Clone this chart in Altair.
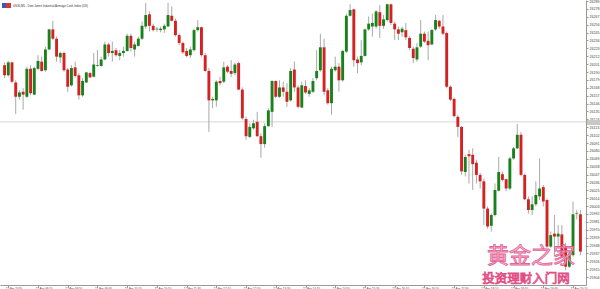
import altair as alt
import pandas as pd

# ---- candle data (5-minute bars), first bar is partly off the left edge ----
first_index = -1
opens = [26200, 26186, 26204, 26176, 26156, 26163, 26156, 26195, 26159, 26195,
         26205, 26193, 26222, 26250, 26237, 26211, 26217, 26194, 26172, 26197,
         26186, 26158, 26176, 26189, 26184, 26199, 26199, 26208, 26229, 26217,
         26221, 26213, 26217, 26220, 26241, 26222, 26227, 26237, 26254, 26271,
         26255, 26250, 26249, 26250, 26254, 26269, 26262, 26242, 26231, 26220,
         26214, 26221, 26249, 26253, 26214, 26192, 26151, 26151, 26178, 26177,
         26198, 26192, 26189, 26203, 26166, 26125, 26100, 26112, 26121, 26101,
         26090, 26115, 26135, 26178, 26156, 26169, 26163, 26151, 26194, 26169,
         26141, 26171, 26160, 26163, 26182, 26193, 26225, 26165, 26147, 26193,
         26198, 26179, 26219, 26269, 26278, 26208, 26204, 26213, 26250, 26254,
         26254, 26274, 26255, 26263, 26285, 26258, 26250, 26246, 26249, 26238,
         26223, 26208, 26226, 26244, 26234, 26229, 26250, 26262, 26254, 26245,
         26170, 26153, 26128, 26114, 26051, 26076, 26075, 26064, 26047, 26038,
         26000, 25976, 25991, 26025, 26048, 26041, 26028, 26070, 26084, 26103,
         26047, 26013, 25998, 26006, 26017, 26030, 26012, 25947, 25965, 25961,
         25964, 25947, 25919, 25935, 25993, 25992]
highs = [26204, 26206, 26205, 26179, 26165, 26168, 26198, 26200, 26198, 26214,
         26212, 26226, 26251, 26262, 26240, 26219, 26219, 26196, 26200, 26205,
         26189, 26182, 26191, 26191, 26217, 26221, 26212, 26233, 26231, 26233,
         26224, 26221, 26226, 26244, 26244, 26233, 26240, 26261, 26287, 26275,
         26258, 26253, 26254, 26258, 26287, 26282, 26265, 26244, 26233, 26224,
         26226, 26251, 26263, 26254, 26217, 26196, 26156, 26179, 26184, 26205,
         26200, 26207, 26204, 26205, 26169, 26128, 26119, 26124, 26135, 26105,
         26119, 26140, 26179, 26179, 26179, 26177, 26175, 26196, 26205, 26172,
         26177, 26179, 26168, 26182, 26221, 26244, 26237, 26168, 26198, 26212,
         26203, 26221, 26272, 26285, 26279, 26212, 26235, 26251, 26268, 26272,
         26277, 26284, 26270, 26286, 26286, 26261, 26254, 26254, 26259, 26241,
         26226, 26231, 26263, 26247, 26247, 26251, 26270, 26263, 26270, 26247,
         26172, 26155, 26131, 26115, 26075, 26082, 26084, 26068, 26050, 26042,
         26003, 25993, 26035, 26072, 26052, 26042, 26072, 26086, 26118, 26107,
         26049, 26017, 26017, 26038, 26070, 26033, 26014, 25968, 25991, 25977,
         25977, 25952, 25940, 26010, 25998, 25998]
lows = [26182, 26184, 26175, 26132, 26152, 26138, 26154, 26158, 26158, 26193,
        26191, 26191, 26221, 26235, 26205, 26203, 26191, 26163, 26170, 26183,
        26152, 26156, 26175, 26182, 26183, 26198, 26198, 26207, 26212, 26205,
        26212, 26207, 26212, 26219, 26219, 26212, 26226, 26235, 26251, 26247,
        26247, 26247, 26246, 26245, 26254, 26261, 26240, 26228, 26216, 26211,
        26210, 26219, 26247, 26212, 26191, 26107, 26140, 26142, 26172, 26175,
        26189, 26184, 26186, 26165, 26124, 26096, 26098, 26110, 26100, 26071,
        26085, 26114, 26114, 26154, 26154, 26156, 26142, 26149, 26163, 26140,
        26140, 26160, 26156, 26161, 26179, 26191, 26158, 26145, 26131, 26191,
        26163, 26177, 26217, 26268, 26198, 26189, 26200, 26212, 26248, 26240,
        26251, 26238, 26251, 26261, 26256, 26235, 26235, 26240, 26235, 26221,
        26203, 26205, 26224, 26231, 26207, 26228, 26248, 26251, 26242, 26168,
        26150, 26127, 26100, 26047, 26045, 26035, 26026, 26035, 26028, 25977,
        25972, 25968, 25989, 26024, 26038, 26024, 26026, 26068, 26083, 26045,
        26012, 25993, 25991, 26003, 26012, 26003, 25945, 25945, 25933, 25945,
        25931, 25914, 25917, 25933, 25985, 25935]
closes = [26186, 26204, 26177, 26156, 26162, 26159, 26195, 26161, 26196, 26206,
          26192, 26222, 26250, 26237, 26212, 26217, 26193, 26170, 26196, 26185,
          26158, 26178, 26190, 26183, 26201, 26200, 26208, 26229, 26217, 26220,
          26214, 26217, 26220, 26241, 26224, 26229, 26237, 26255, 26270, 26255,
          26249, 26251, 26251, 26255, 26270, 26262, 26242, 26231, 26218, 26213,
          26222, 26249, 26253, 26214, 26192, 26151, 26153, 26177, 26175, 26197,
          26191, 26188, 26201, 26166, 26126, 26101, 26114, 26119, 26101, 26090,
          26115, 26137, 26178, 26156, 26169, 26163, 26149, 26192, 26169, 26142,
          26172, 26162, 26165, 26178, 26192, 26225, 26163, 26147, 26195, 26198,
          26179, 26220, 26269, 26277, 26207, 26203, 26213, 26250, 26258, 26259,
          26275, 26255, 26264, 26285, 26259, 26250, 26244, 26251, 26239, 26224,
          26210, 26225, 26244, 26233, 26228, 26249, 26263, 26254, 26244, 26170,
          26152, 26129, 26114, 26052, 26072, 26073, 26062, 26047, 26038, 26000,
          25975, 25991, 26026, 26051, 26040, 26028, 26070, 26084, 26103, 26047,
          26013, 25998, 26006, 26019, 26028, 26010, 25947, 25963, 25961, 25965,
          25933, 25919, 25937, 25992, 25994, 25940]

price_ticks = [26289.5, 26278.5, 26267.5, 26256.5, 26245.5, 26234.5, 26223.5,
               26212.5, 26201.5, 26190.5, 26179.5, 26168.5, 26157.5, 26146.5,
               26135.5, 26124.5, 26113.5, 26102.5, 26091.5, 26080.5, 26069.5,
               26058.5, 26047.5, 26036.5, 26025.5, 26014.5, 26003.5, 25992.5,
               25981.5, 25970.5, 25959.5, 25948.5, 25937.5, 25926.5, 25915.5,
               25904.5]
time_tick_bars = [0, 8, 16, 24, 32, 40, 48, 56, 64, 72, 80, 88, 96, 104, 112,
                  120, 128, 136, 144, 152]
time_labels = ["12 Apr 2019", "12 Apr 08:10", "12 Apr 08:50", "12 Apr 09:30",
               "12 Apr 10:10", "12 Apr 10:50", "12 Apr 11:30", "12 Apr 12:10",
               "12 Apr 12:50", "12 Apr 13:30", "12 Apr 14:10", "12 Apr 14:50",
               "12 Apr 15:30", "12 Apr 16:10", "12 Apr 16:50", "12 Apr 17:30",
               "12 Apr 18:10", "12 Apr 18:50", "12 Apr 19:30", "12 Apr 20:10"]
price_line = 26121
title_text = "US30,M5 - Dow Jones Industrial Average Cash Index (US)"
watermark_big = "黄金之家"
watermark_small = "投资理财入门网"

# ---- table ----
n = len(opens)
df = pd.DataFrame({
    "bar": list(range(first_index, first_index + n)),
    "open": opens, "high": highs, "low": lows, "close": closes,
})
df["dir"] = ["up" if c >= o else "down" for o, c in zip(opens, closes)]

W, H = 586, 285
x_scale = alt.Scale(domain=[-0.881, 154.15], nice=False, zero=False)
y_scale = alt.Scale(domain=[25893.4, 26291], nice=False, zero=False)

label_expr = "[" + ",".join("'" + t + "'" for t in time_labels) + "][round(datum.value/8)]"

x_axis = alt.Axis(values=time_tick_bars, labelExpr=label_expr, title=None,
                  labelFontSize=3, labelColor="#444", labelAlign="left",
                  labelBaseline="top", labelPadding=0, labelOffset=-3,
                  tickSize=2, tickColor="#999", domainColor="#999",
                  labelOverlap=False, labelFlush=False, labelBound=False,
                  grid=False, labelFont="Liberation Sans")
y_axis = alt.Axis(orient="right", values=price_ticks, format=".1f", title=None,
                  labelFontSize=3.6, labelColor="#444", labelPadding=1,
                  labelBaseline="middle", tickSize=2, tickColor="#999",
                  domainColor="#999", labelOverlap=False, labelFlush=False,
                  labelBound=False, grid=False, labelFont="Liberation Sans")

base = alt.Chart(df)

hline = alt.Chart(pd.DataFrame({"p": [price_line]})).mark_rule(
    color="#d6d6d6", strokeWidth=1, clip=True
).encode(y=alt.Y("p:Q", scale=y_scale, axis=y_axis))

wicks = base.mark_rule(color="#a9a9a9", strokeWidth=1, clip=True).encode(
    x=alt.X("bar:Q", scale=x_scale, axis=x_axis),
    y=alt.Y("low:Q", scale=y_scale, axis=y_axis),
    y2="high:Q",
)

bodies = base.mark_bar(size=2.9, clip=True).encode(
    x=alt.X("bar:Q", scale=x_scale, axis=x_axis),
    y=alt.Y("open:Q", scale=y_scale, axis=y_axis),
    y2="close:Q",
    color=alt.Color("dir:N", scale=alt.Scale(domain=["up", "down"],
                                             range=["#19801c", "#d42222"]),
                    legend=None),
)

one = pd.DataFrame({"k": [0]})
icon_blue = alt.Chart(one).mark_rect(color="#3a5bb0").encode(
    x=alt.value(2), x2=alt.value(6), y=alt.value(3), y2=alt.value(8))
icon_red = alt.Chart(one).mark_rect(color="#d23a3a").encode(
    x=alt.value(6), x2=alt.value(11), y=alt.value(3), y2=alt.value(8))
title = alt.Chart(one).mark_text(
    align="left", baseline="middle", fontSize=2.9, color="#333",
    font="Liberation Sans"
).encode(x=alt.value(13), y=alt.value(5.5), text=alt.value(title_text))

axis_box = alt.Chart(one).mark_rect(color="#c8c8c8").encode(
    x=alt.value(587), x2=alt.value(600), y=alt.value(120), y2=alt.value(125))

wm1 = alt.Chart(one).mark_text(
    align="center", baseline="middle", fontSize=22, font="Noto Sans CJK SC",
    fill="#f6b6d2", stroke="#e0558c", strokeWidth=0.8, opacity=0.9
).encode(x=alt.value(531), y=alt.value(256), text=alt.value(watermark_big))
wm2 = alt.Chart(one).mark_text(
    align="center", baseline="middle", fontSize=12.5, font="Noto Sans CJK SC",
    fill="#f6b6d2", stroke="#e0457e", strokeWidth=0.8, opacity=0.95
).encode(x=alt.value(526), y=alt.value(279), text=alt.value(watermark_small))

chart = alt.layer(hline, wicks, bodies, icon_blue, icon_red, title, axis_box,
                  wm1, wm2).properties(
    width=W, height=H,
    autosize=alt.AutoSizeParams(type="none"),
    padding={"left": 0, "top": 0, "right": 14, "bottom": 4},
    background="white",
).configure_view(stroke=None)

chart.save("out.html", embed_options={"renderer": "svg", "actions": False})
